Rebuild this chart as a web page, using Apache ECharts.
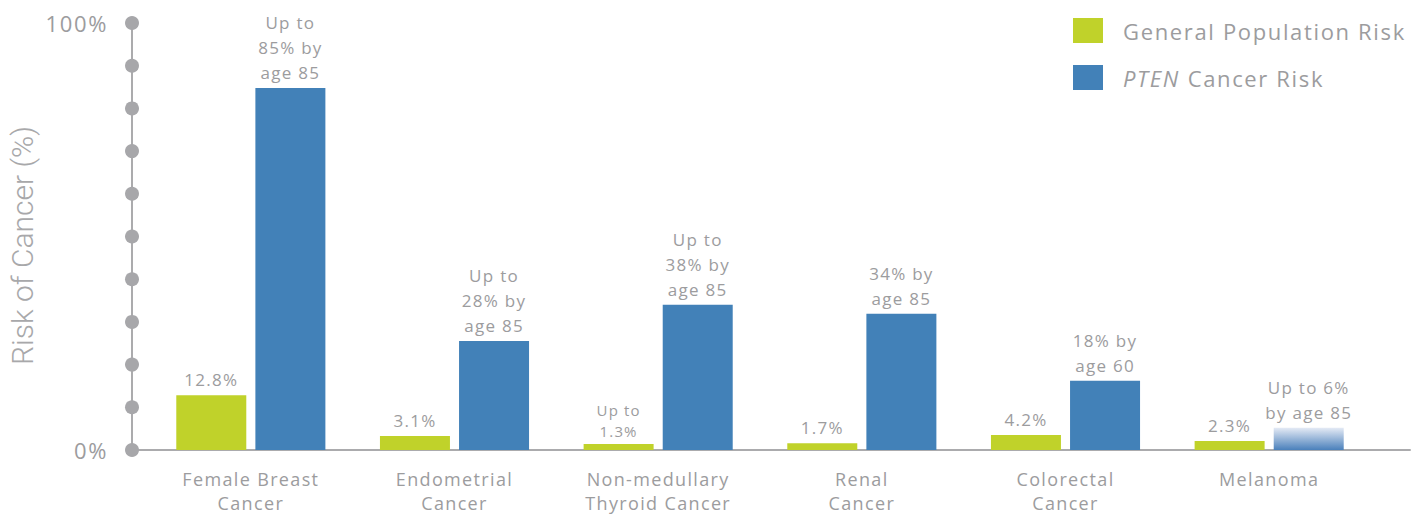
<!DOCTYPE html>
<html>
<head>
<meta charset="utf-8">
<script src="https://cdn.jsdelivr.net/npm/echarts@6/dist/echarts.min.js"></script>
<style>
html,body{margin:0;padding:0;background:#fff}
#c{width:1424px;height:514px}
#c text{letter-spacing:0.075em}
#c text[style*="Roboto"]{letter-spacing:0}
</style>
</head>
<body>
<div id="c"></div>
<script>
const categories = ['Female Breast\nCancer', 'Endometrial\nCancer', 'Non-medullary\nThyroid Cancer', 'Renal\nCancer', 'Colorectal\nCancer', 'Melanoma'];
const generalRisk = [12.8, 3.3, 1.4, 1.6, 3.5, 2.1];
const ptenRisk = [84.8, 25.5, 34.0, 31.9, 16.2, 5.2];
const generalLabels = ['12.8%', '3.1%', 'Up to\n1.3%', '1.7%', '4.2%', '2.3%'];
const ptenLabels = ['Up to\n85% by\nage 85', 'Up to\n28% by\nage 85', 'Up to\n38% by\nage 85', '34% by\nage 85', '18% by\nage 60', 'Up to 6%\nby age 85'];
const yTicks = [0, 10, 20, 30, 40, 50, 60, 70, 80, 90, 100];
const yTickLabels = {0: '0%', 100: '100%'};
const seriesNames = ['General Population Risk', 'PTEN Cancer Risk'];

const GREEN = '#c0d22a', BLUE = '#4281b8', GRAY = '#9c9c9e', AXIS = '#ababad';
const FONT = 'Open Sans';

const chart = echarts.init(document.getElementById('c'), null, { renderer: 'svg' });

const generalData = generalRisk.map((v, i) => {
  const d = { value: v, label: { formatter: generalLabels[i] } };
  if (generalLabels[i].indexOf('\n') >= 0) {
    d.label.fontSize = 15; d.label.lineHeight = 21;
  }
  return d;
});
const ptenData = ptenRisk.map((v, i) => {
  const d = { value: v, label: { formatter: ptenLabels[i] } };
  if (i === ptenRisk.length - 1) {
    d.itemStyle = { color: new echarts.graphic.LinearGradient(0, 0, 0, 1, [
      { offset: 0, color: '#e4eaf5' }, { offset: 1, color: '#4a80bb' }]) };
  }
  return d;
});

chart.setOption({
  animation: false,
  textStyle: { fontFamily: FONT },
  legend: {
    orient: 'vertical', left: 1068, top: 13, itemWidth: 30, itemHeight: 25, itemGap: 22,
    icon: 'rect', data: seriesNames,
    textStyle: { fontSize: 22, color: GRAY, fontFamily: FONT, padding: [0, 0, 0, 15],
      rich: { i: { fontStyle: 'italic', fontSize: 22, color: GRAY, fontFamily: FONT, padding: [0, 7, 0, 0] } } },
    formatter: n => n.indexOf('PTEN') === 0 ? '{i|PTEN}' + n.slice(4) : n
  },
  grid: [
    { left: 149, right: 53, top: 23, bottom: 64, outerBoundsMode: 'none', containLabel: false },
    { left: 132, right: 14, top: 23, bottom: 64, outerBoundsMode: 'none', containLabel: false }
  ],
  xAxis: [
    { type: 'category', gridIndex: 0, data: categories,
      axisLine: { show: false }, axisTick: { show: false },
      axisLabel: { fontSize: 18, lineHeight: 24, color: GRAY, margin: 17, fontFamily: FONT, interval: 0 } },
    { type: 'value', gridIndex: 1, min: 0, max: 1, splitLine: { show: false },
      axisLine: { show: true, lineStyle: { color: AXIS, width: 2 } },
      axisTick: { show: false }, axisLabel: { show: false } }
  ],
  yAxis: [
    { type: 'value', gridIndex: 0, min: 0, max: 100, show: false },
    { type: 'value', gridIndex: 1, min: 0, max: 100, interval: 10,
      name: 'Risk of Cancer (%)', nameLocation: 'middle', nameRotate: 90, nameGap: 95,
      nameTextStyle: { fontSize: 30, color: '#a8a8aa', fontFamily: 'Roboto', fontWeight: 300, padding: [0, 18, 0, 0] },
      splitLine: { show: false },
      axisLine: { show: true, lineStyle: { color: AXIS, width: 2 } },
      axisTick: { show: false },
      axisLabel: { fontSize: 22, color: GRAY, margin: 24, fontFamily: FONT,
        formatter: v => yTickLabels[v] || '' } }
  ],
  series: [
    { name: seriesNames[0], type: 'bar', xAxisIndex: 0, yAxisIndex: 0, data: generalData,
      barWidth: 70, barGap: '13%', itemStyle: { color: GREEN },
      label: { show: true, position: 'top', distance: 3, fontSize: 17, lineHeight: 25, color: GRAY, fontFamily: FONT } },
    { name: seriesNames[1], type: 'bar', xAxisIndex: 0, yAxisIndex: 0, data: ptenData,
      barWidth: 70, barGap: '13%', itemStyle: { color: BLUE },
      label: { show: true, position: 'top', distance: 3, fontSize: 17, lineHeight: 25, color: GRAY, fontFamily: FONT } },
    { type: 'scatter', xAxisIndex: 1, yAxisIndex: 1, symbolSize: 14, silent: true,
      itemStyle: { color: '#a7a7aa', opacity: 1 },
      data: yTicks.map(v => [0, v]), z: 5 }
  ]
});
</script>
</body>
</html>
